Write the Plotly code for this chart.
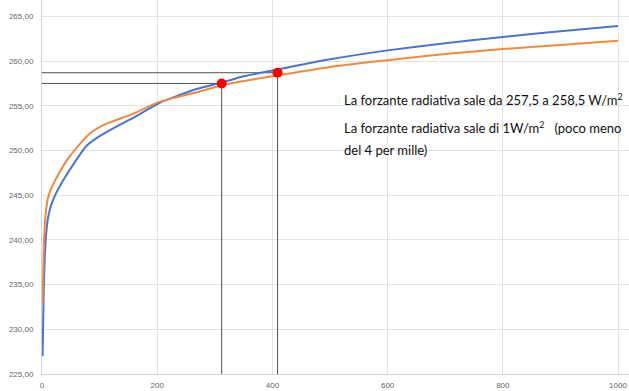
import plotly.graph_objects as go

# Values
blue_x = [1, 3, 5, 7, 10, 15, 20, 30, 40, 55, 77, 100, 130, 160, 200, 230, 270, 312, 350, 400,
          500, 600, 700, 800, 900, 1000]
blue_vals = [227.0, 234.4, 238.3, 240.5, 242.3, 243.7, 244.6, 245.9, 247.0, 248.5, 250.5, 251.6,
             252.7, 253.7, 255.2, 256.0, 256.9, 257.6, 258.3, 258.95,
             260.2, 261.2, 262.0, 262.7, 263.35, 263.93]
orange_x = [1, 3, 5, 7, 10, 15, 20, 30, 43, 60, 83, 112, 158, 200, 230, 274, 312, 343, 400,
            500, 600, 700, 800, 900, 1000]
orange_vals = [232.9, 238.9, 241.8, 243.3, 244.6, 245.6, 246.3, 247.5, 248.9, 250.3, 251.9, 253.0,
               254.1, 255.35, 255.9, 256.6, 257.3, 257.7, 258.3,
               259.35, 260.1, 260.8, 261.35, 261.8, 262.28]
point_x = [312, 409]
point_y = [257.5, 258.7]
x_ticks = [0, 200, 400, 600, 800, 1000]
y_ticks = [225, 230, 235, 240, 245, 250, 255, 260, 265]

fig = go.Figure()

# reference lines from the axes to the points
for px, py in zip(point_x, point_y):
    fig.add_trace(go.Scatter(x=[0, px, px], y=[py, py, 225], mode="lines",
                             line=dict(color="#505050", width=1), hoverinfo="skip", showlegend=False))

fig.add_trace(go.Scatter(x=blue_x, y=blue_vals, mode="lines",
                         line=dict(color="#4A74D0", width=2, shape="spline", smoothing=0.6),
                         showlegend=False))
fig.add_trace(go.Scatter(x=orange_x, y=orange_vals, mode="lines",
                         line=dict(color="#F08A3E", width=2, shape="spline", smoothing=0.6),
                         showlegend=False))
fig.add_trace(go.Scatter(x=point_x, y=point_y, mode="markers",
                         marker=dict(color="#FF0000", size=10), showlegend=False))

text_font = dict(family="Lato, Carlito, Calibri, sans-serif", size=13, color="#111111")
lines = [
    ("La forzante radiativa sale da 257,5 a 258,5 W/m<sup>2</sup>", 100),
    ("La forzante radiativa sale di 1W/m<sup>2</sup>   (poco meno", 127),
    ("del 4 per mille)", 150),
]
for txt, ypx in lines:
    fig.add_annotation(x=(342 - 42) / 587, xref="paper", y=1 - ypx / 374, yref="paper",
                       text=txt, showarrow=False, xanchor="left", yanchor="middle",
                       font=text_font)

fig.update_layout(
    width=629, height=391,
    margin=dict(l=42, r=0, t=0, b=17),
    paper_bgcolor="white", plot_bgcolor="white",
    separators=",.",
    xaxis=dict(range=[0, 1000 * 587 / 576], tickvals=x_ticks, showgrid=True, gridcolor="#e3e3e3",
               gridwidth=1, zeroline=False, showline=True, linecolor="#d3d3d3", linewidth=1,
               ticks="", ticklabelstandoff=3, automargin=False,
               tickfont=dict(family="Liberation Sans, Arial", size=8, color="#666")),
    yaxis=dict(range=[225, 225 + 374 / 8.94], tickvals=y_ticks, tickformat=".2f", showgrid=True,
               gridcolor="#e3e3e3", gridwidth=1, zeroline=False, showline=True, linecolor="#d3d3d3",
               linewidth=1, ticks="", ticklabelstandoff=6, automargin=False,
               tickfont=dict(family="Liberation Sans, Arial", size=8, color="#666")),
)

fig.write_html("out.html", config={"displayModeBar": False},
               post_script="document.body.style.margin='0';")
